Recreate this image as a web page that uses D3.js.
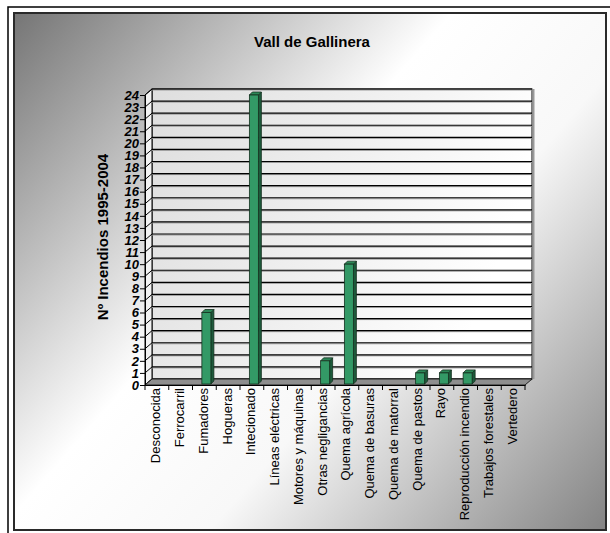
<!DOCTYPE html>
<html>
<head>
<meta charset="utf-8">
<script src="https://cdn.jsdelivr.net/npm/d3@7"></script>
<style>
  body { margin: 0; background: #fff; }
  text { font-family: "Liberation Sans", Arial, sans-serif; }
</style>
</head>
<body>
<div id="chart"></div>
<script>
// Chart data
var title = "Vall de Gallinera";
var yTitle = "Nº Incendios 1995-2004";
var categories = ["Desconocida", "Ferrocarril", "Fumadores", "Hogueras", "Intecionado",
  "Líneas eléctricas", "Motores y máquinas", "Otras negligancias", "Quema agrícola",
  "Quema de basuras", "Quema de matorral", "Quema de pastos", "Rayo",
  "Reproducción incendio", "Trabajos forestales", "Vertedero"];
var values = [0, 0, 6, 0, 24, 0, 0, 2, 10, 0, 0, 1, 1, 1, 0, 0];
var yTicks = d3.range(0, 25);

var svgWidth = 610;
var svgHeight = 533;

// 3D depth offset of the walls and of the bars
var depth = { dx: 7, dy: -6 };
var barDepth = { dx: 3, dy: -3 };

var svg = d3.select("#chart")
  .append("svg")
  .attr("width", svgWidth)
  .attr("height", svgHeight);

var defs = svg.append("defs");

var bg = defs.append("linearGradient")
  .attr("id", "bg")
  .attr("gradientUnits", "userSpaceOnUse")
  .attr("x1", 14).attr("y1", 13).attr("x2", 606).attr("y2", 530);
bg.append("stop").attr("offset", 0).attr("stop-color", "#757575");
bg.append("stop").attr("offset", 0.42).attr("stop-color", "#ffffff");
bg.append("stop").attr("offset", 0.62).attr("stop-color", "#f8f8f8");
bg.append("stop").attr("offset", 1).attr("stop-color", "#838383");

var wall = defs.append("linearGradient")
  .attr("id", "wall")
  .attr("x1", 0).attr("y1", 0).attr("x2", 1).attr("y2", 0.3);
wall.append("stop").attr("offset", 0).attr("stop-color", "#dedede");
wall.append("stop").attr("offset", 1).attr("stop-color", "#ffffff");

// Frames
svg.append("rect")
  .attr("x", 8).attr("y", 7)
  .attr("width", 620).attr("height", 540)
  .attr("fill", "none")
  .attr("stroke", "#000")
  .attr("stroke-width", 1.5);

svg.append("rect")
  .attr("x", 14).attr("y", 13)
  .attr("width", 592).attr("height", 517)
  .attr("fill", "url(#bg)")
  .attr("stroke", "#2a2a2a")
  .attr("stroke-width", 2);

// Scales
var x = d3.scaleBand()
  .domain(categories)
  .range([145, 525]);

var y = d3.scaleLinear()
  .domain([0, 24])
  .range([385, 95]);

var x0 = x.range()[0], x1 = x.range()[1];

// Back wall
svg.append("rect")
  .attr("x", x0 + depth.dx)
  .attr("y", y(24) + depth.dy)
  .attr("width", x1 - x0)
  .attr("height", y(0) - y(24))
  .attr("fill", "url(#wall)")
  .attr("stroke", "#000")
  .attr("stroke-width", 1);

// Shadow on right edge of wall
svg.append("line")
  .attr("x1", x1 + depth.dx + 1.5).attr("x2", x1 + depth.dx + 1.5)
  .attr("y1", y(24) + depth.dy).attr("y2", y(0) + depth.dy)
  .attr("stroke", "#999").attr("stroke-width", 2);

// Side wall (left)
svg.append("path")
  .attr("d", `M${x0},${y(0)}L${x0},${y(24)}L${x0 + depth.dx},${y(24) + depth.dy}L${x0 + depth.dx},${y(0) + depth.dy}Z`)
  .attr("fill", "#f2f2f2")
  .attr("stroke", "#000");

// Gridlines
var grid = svg.append("g");
yTicks.forEach(function(v) {
  grid.append("line")
    .attr("x1", x0 + depth.dx).attr("x2", x1 + depth.dx)
    .attr("y1", y(v) + depth.dy + 1).attr("y2", y(v) + depth.dy + 1)
    .attr("stroke", "#9a9a9a").attr("stroke-width", 1);
  grid.append("line")
    .attr("x1", x0 + depth.dx).attr("x2", x1 + depth.dx)
    .attr("y1", y(v) + depth.dy).attr("y2", y(v) + depth.dy)
    .attr("stroke", "#000").attr("stroke-width", 1.2);
  grid.append("line")
    .attr("x1", x0).attr("x2", x0 + depth.dx)
    .attr("y1", y(v)).attr("y2", y(v) + depth.dy)
    .attr("stroke", "#000").attr("stroke-width", 1);
});

// Floor
svg.append("path")
  .attr("d", `M${x0},${y(0)}L${x1},${y(0)}L${x1 + depth.dx},${y(0) + depth.dy}L${x0 + depth.dx},${y(0) + depth.dy}Z`)
  .attr("fill", "#8e8e8e")
  .attr("stroke", "#222")
  .attr("stroke-width", 1);

// Bars
var bw = 9;
var bars = svg.append("g").selectAll("g")
  .data(values.map(function(v, i) { return { cat: categories[i], v: v }; }).filter(function(d) { return d.v > 0; }))
  .enter().append("g");

bars.each(function(d) {
  var g = d3.select(this);
  var bx = x(d.cat) + x.bandwidth() / 2 - bw / 2 + 2;
  var top = y(d.v);
  var bot = y(0) - 1;
  // side
  g.append("path")
    .attr("d", `M${bx + bw},${bot}L${bx + bw},${top}L${bx + bw + barDepth.dx},${top + barDepth.dy}L${bx + bw + barDepth.dx},${bot + barDepth.dy}Z`)
    .attr("fill", "#1d5a3b").attr("stroke", "#15301f").attr("stroke-width", 0.8);
  // top
  g.append("path")
    .attr("d", `M${bx},${top}L${bx + bw},${top}L${bx + bw + barDepth.dx},${top + barDepth.dy}L${bx + barDepth.dx},${top + barDepth.dy}Z`)
    .attr("fill", "#2c8757").attr("stroke", "#15301f").attr("stroke-width", 0.8);
  // front
  g.append("rect")
    .attr("x", bx).attr("y", top)
    .attr("width", bw).attr("height", bot - top)
    .attr("fill", "#339966").attr("stroke", "#15301f").attr("stroke-width", 0.8);
});

// Y axis
var yAxis = d3.axisLeft(y)
  .tickValues(yTicks)
  .tickSize(5)
  .tickPadding(1)
  .tickFormat(d3.format("d"));

var yAxisG = svg.append("g")
  .attr("transform", `translate(${x0}, 0)`)
  .call(yAxis);
yAxisG.select(".domain").attr("stroke", "#000");
yAxisG.selectAll(".tick line").attr("stroke", "#000");
yAxisG.selectAll(".tick text")
  .attr("fill", "#000")
  .attr("font-family", "'Liberation Sans', Arial, sans-serif")
  .attr("font-size", "13px")
  .attr("font-weight", "bold")
  .attr("font-style", "italic");

// X axis
var xAxis = d3.axisBottom(x).tickSize(0).tickPadding(0);
var xAxisG = svg.append("g")
  .attr("transform", `translate(0, ${y(0)})`)
  .call(xAxis);
xAxisG.select(".domain").attr("stroke", "#000");
xAxisG.selectAll(".tick text")
  .attr("fill", "#000")
  .attr("font-family", "'Liberation Sans', Arial, sans-serif")
  .attr("font-size", "13px")
  .attr("text-anchor", "end")
  .attr("transform", "translate(-1, 3) rotate(-90)")
  .attr("x", 0)
  .attr("y", 0)
  .attr("dy", "0.35em");

// Tick marks between categories
svg.append("g").selectAll("line")
  .data(d3.range(categories.length + 1))
  .enter().append("line")
  .attr("x1", function(i) { return x0 + i * x.step(); })
  .attr("x2", function(i) { return x0 + i * x.step(); })
  .attr("y1", y(0))
  .attr("y2", y(0) + 5)
  .attr("stroke", "#000");

// Titles
svg.append("text")
  .attr("x", 312)
  .attr("y", 47)
  .attr("text-anchor", "middle")
  .attr("font-size", "15px")
  .attr("font-weight", "bold")
  .text(title);

svg.append("text")
  .attr("transform", `translate(108, 237) rotate(-90)`)
  .attr("text-anchor", "middle")
  .attr("font-size", "15px")
  .attr("font-weight", "bold")
  .text(yTitle);
</script>
</body>
</html>
